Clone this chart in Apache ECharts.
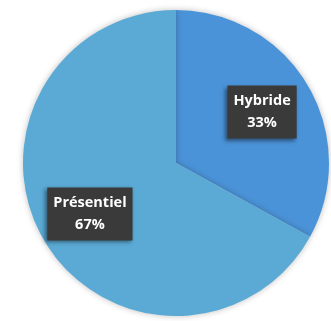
<!DOCTYPE html>
<html><head><meta charset="utf-8">
<script src="https://cdn.jsdelivr.net/npm/echarts@6/dist/echarts.min.js"></script>
<style>html,body{margin:0;padding:0;background:#fff}#c{width:331px;height:321px}</style>
</head><body><div id="c"></div>
<script>
const categories = ['Hybride', 'Présentiel'];
const values = [33, 67];
const colors = ['#4b93d8', '#5aaad5'];

const data = categories.map((n, i) => ({ name: n, value: values[i], itemStyle: { color: colors[i] } }));
const chart = echarts.init(document.getElementById('c'), null, { renderer: 'canvas' });
chart.setOption({
  animation: false,
  series: [
    {
      type: 'pie', center: [176, 163], radius: 153, startAngle: 90, clockwise: true,
      silent: true, label: { show: false }, labelLine: { show: false },
      itemStyle: { shadowBlur: 6, shadowColor: 'rgba(0,0,0,0.25)' },
      data: data
    },
    {
      type: 'pie', center: [176, 163], radius: [41, 153], startAngle: 90, clockwise: true,
      silent: true,
      itemStyle: { color: 'rgba(0,0,0,0)' },
      label: {
        show: true, position: 'inside',
        formatter: p => p.name + '\n' + p.value + '%',
        color: '#fff', fontFamily: 'Open Sans', fontWeight: 'bold', fontSize: 14.5,
        lineHeight: 22, backgroundColor: '#3a3a3a', padding: [5, 6, 4, 6],
        shadowBlur: 4, shadowOffsetX: -2, shadowOffsetY: 2, shadowColor: 'rgba(0,0,0,0.45)'
      },
      labelLine: { show: false },
      data: categories.map((n, i) => ({ name: n, value: values[i], itemStyle: { color: 'rgba(0,0,0,0)' } }))
    }
  ]
});
</script></body></html>
